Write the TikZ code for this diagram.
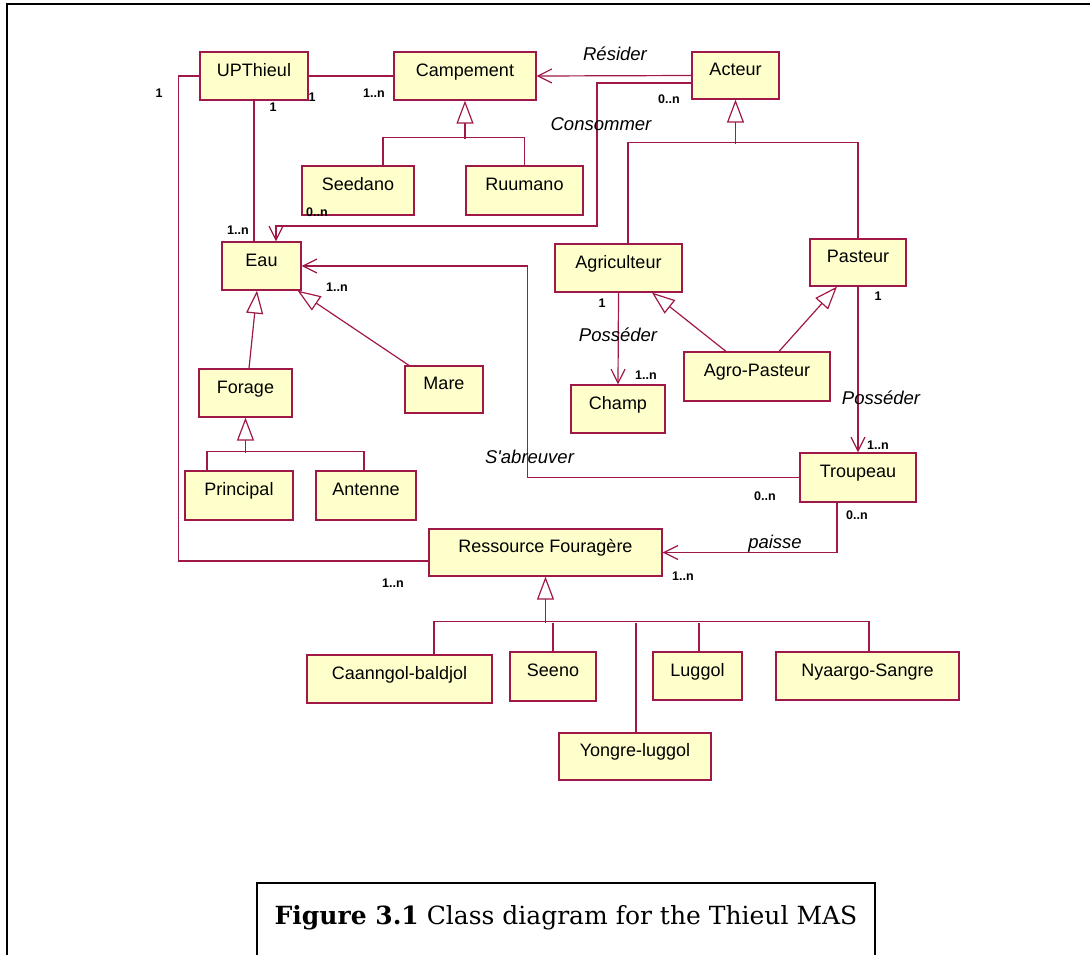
\documentclass[tikz,border=0pt]{standalone}
\usepackage{fontspec}
\setmainfont{Liberation Sans}[Ligatures=TeXOff]
\newfontfamily\legendafont{DejaVu Serif}
\usetikzlibrary{arrows.meta}

\definecolor{umlred}{RGB}{160,24,72}
\definecolor{umlfill}{RGB}{255,255,204}

\begin{document}
\begin{tikzpicture}[x=1pt, y=-1pt, line width=1.2pt,
					classe/.style={draw=umlred, fill=umlfill, inner sep=0pt, text height=13pt, text depth=13pt,
						font=\fontsize{18}{20}\selectfont},
					linha/.style={draw=umlred},
					assoc/.style={draw=umlred, -{Straight Barb[length=14pt,width=14pt]}},
					heranca/.style={draw=umlred, -{Triangle[open,length=23pt,width=17pt]}},
					mult/.style={anchor=base, inner sep=0pt, font=\fontsize{12.5}{14}\selectfont\bfseries},
					papel/.style={anchor=base, inner sep=0pt, font=\fontsize{18.5}{20}\selectfont\itshape} ]
	\useasboundingbox (0,0) rectangle (1090,954);
	\draw[line width=2pt] (7,960) -- (7,4) -- (1095,4);
	
	%Classes:
	\node[classe, minimum width=108pt, minimum height=48pt] (upthieul)    at (254,76)    {UPThieul};
	\node[classe, minimum width=142pt, minimum height=48pt] (campement)   at (465,76)    {Campement};
	\node[classe, minimum width=87pt,  minimum height=47pt] (acteur)      at (735.5,75.5) {Acteur};
	\node[classe, minimum width=112pt, minimum height=49pt] (seedano)     at (358,190.5) {Seedano};
	\node[classe, minimum width=117pt, minimum height=49pt] (ruumano)     at (524.5,190.5) {Ruumano};
	\node[classe, minimum width=79pt,  minimum height=48pt] (eau)         at (261.5,266) {Eau};
	\node[classe, minimum width=127pt, minimum height=48pt] (agriculteur) at (618.5,268) {Agriculteur};
	\node[classe, minimum width=96pt,  minimum height=47pt] (pasteur)     at (858,262.5) {Pasteur};
	\node[classe, minimum width=93pt,  minimum height=48pt] (forage)      at (245.5,393) {Forage};
	\node[classe, minimum width=78pt,  minimum height=47pt] (mare)        at (444,389.5) {Mare};
	\node[classe, minimum width=94pt,  minimum height=48pt] (champ)       at (618,409)   {Champ};
	\node[classe, minimum width=146pt, minimum height=49pt] (agropasteur) at (757,376.5) {Agro-Pasteur};
	\node[classe, minimum width=108pt, minimum height=49pt] (principal)   at (239,495.5) {Principal};
	\node[classe, minimum width=100pt, minimum height=49pt] (antenne)     at (366,495.5) {Antenne};
	\node[classe, minimum width=116pt, minimum height=49pt] (troupeau)    at (858,477.5) {Troupeau};
	\node[classe, minimum width=233pt, minimum height=47pt] (ressource)   at (545.5,552.5) {Ressource Fouragère};
	\node[classe, minimum width=185pt, minimum height=48pt] (caanngol)    at (399.5,679) {Caanngol-baldjol};
	\node[classe, minimum width=86pt,  minimum height=49pt] (seeno)       at (553,676.5) {Seeno};
	\node[classe, minimum width=89pt,  minimum height=48pt] (luggol)      at (697.5,676) {Luggol};
	\node[classe, minimum width=183pt, minimum height=48pt] (nyaargo)     at (867.5,676) {Nyaargo-Sangre};
	\node[classe, minimum width=152pt, minimum height=47pt] (yongre)      at (635,756.5) {Yongre-luggol};
	
	%Associações:
	\draw[linha] (upthieul.west) -- ++(-21,0) |- ([yshift=-8.5pt]ressource.west);
	\draw[linha] (upthieul.east) -- (campement.west);
	\draw[linha] (upthieul.south) -- (upthieul.south |- eau.north);
	\draw[assoc] (acteur.west) -- (campement.east);
	\draw[assoc] ([yshift=-7.5pt]acteur.west) -| (597,226) -| ([xshift=14.5pt]eau.north);
	\draw[assoc] (agriculteur.south) -- (champ.north);
	\draw[assoc] (pasteur.south) -- (troupeau.north);
	\draw[assoc] (troupeau.west) -- ++(-272,0) |- (eau.east);
	\draw[assoc] ([xshift=-21pt]troupeau.south) |- (ressource.east);
	
	%Herança:
	\draw[linha] ([xshift=25pt]seedano.north) -- ++(0,-28) -| (ruumano.north);
	\draw[heranca] (campement.south) ++(0,38) -- (campement.south);
	\draw[linha] ([xshift=9.5pt]agriculteur.north) -- ++(0,-101) -| (pasteur.north);
	\draw[heranca] (acteur.south) ++(0,44) -- (acteur.south);
	\draw[heranca] ([xshift=-31pt]agropasteur.north) -- ([xshift=33.5pt]agriculteur.south);
	\draw[heranca] ([xshift=22pt]agropasteur.north) -- ([xshift=-21pt]pasteur.south);
	\draw[heranca] ([xshift=3.5pt]forage.north) -- ([xshift=-4.5pt]eau.south);
	\draw[heranca] ([xshift=-35pt]mare.north) -- ([xshift=-4pt]eau.south east);
	\draw[linha] ([xshift=-32pt]principal.north) -- ++(0,-19) -| ([xshift=-2pt]antenne.north);
	\draw[heranca] (forage.south) ++(0,35) -- (forage.south);
	\coordinate (barraRF) at ([yshift=-46pt]ressource.south);
	\draw[linha] ([xshift=34.5pt]caanngol.north) -- ++(0,-33) -| ([xshift=1.5pt]nyaargo.north);
	\foreach \n/\dx in {seeno/0, yongre/1, luggol/1.5}
		\draw[linha] ([xshift=\dx pt]\n.north) -- ([xshift=\dx pt]\n.north |- barraRF);
	\draw[heranca] (barraRF) -- (ressource.south);
	
	%Multiplicidades:
	\node[mult] (m1)  at (159,97)  {1};
	\node[mult] (m2)  at (312,101) {1};
	\node[mult] (m3)  at (374,97)  {1..n};
	\node[mult] (m4)  at (273,111) {1};
	\node[mult] (m5)  at (238,234) {1..n};
	\node[mult] (m6)  at (317,216) {0..n};
	\node[mult] (m7)  at (669,103) {0..n};
	\node[mult] (m8)  at (602,307) {1};
	\node[mult] (m9)  at (646,379) {1..n};
	\node[mult] (m10) at (878,300) {1};
	\node[mult] (m11) at (878,449) {1..n};
	\node[mult] (m12) at (337,291) {1..n};
	\node[mult] (m13) at (765,500) {0..n};
	\node[mult] (m14) at (857,519) {0..n};
	\node[mult] (m15) at (683,580) {1..n};
	\node[mult] (m16) at (393,587) {1..n};
	
	%Papéis:
	\node[papel] (resider)    at (615,60)    {Résider};
	\node[papel] (consommer)  at (601,130)   {Consommer};
	\node[papel] (posseder1)  at (618,341)   {Posséder};
	\node[papel] (posseder2)  at (881,404)   {Posséder};
	\node[papel] (sabreuver)  at (529.5,463) {S'abreuver};
	\node[papel] (paisse)     at (775,548)   {paisse};
	
	%Legenda:
	\node[draw, line width=1.5pt, anchor=north, inner sep=0pt, minimum width=618pt, minimum height=100pt,
		text height=18pt, text depth=34pt, font=\legendafont\fontsize{25}{30}\selectfont]
		(legenda) at (566,882) {{\bfseries Figure 3.1} Class diagram for the Thieul MAS};
\end{tikzpicture}
\end{document}
